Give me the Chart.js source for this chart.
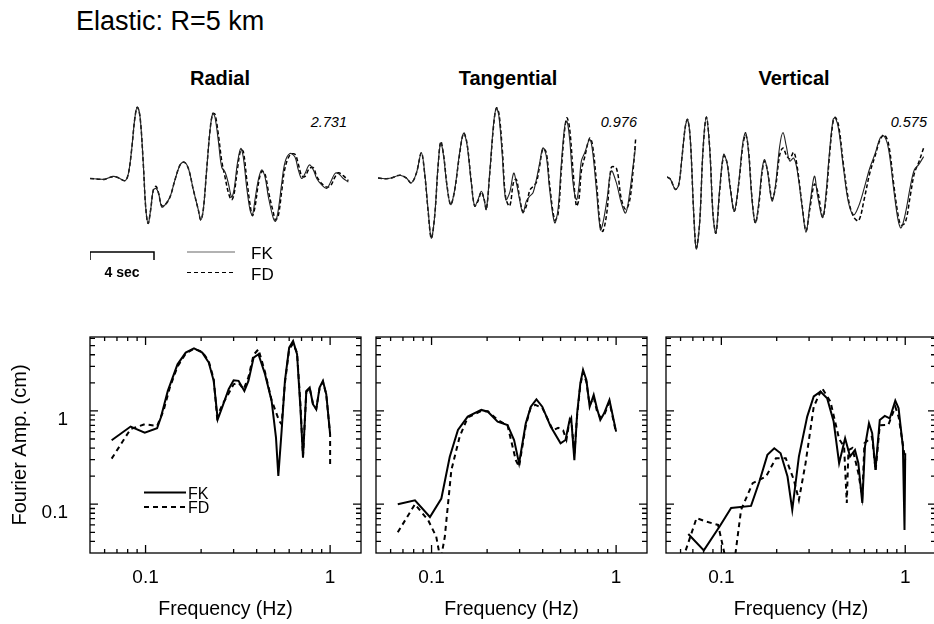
<!DOCTYPE html>
<html>
<head>
<meta charset="utf-8">
<script src="https://cdn.jsdelivr.net/npm/chart.js@4.4.1/dist/chart.umd.min.js"></script>
<style>
  body { margin: 0; width: 934px; height: 624px; overflow: hidden; background: #fff; position: relative;
         font-family: "Liberation Sans", Arial, Helvetica, sans-serif; color: #000; }
  .box { position: absolute; }
  .txt { position: absolute; white-space: nowrap; line-height: 1; }
  .head { font-weight: bold; font-size: 20px; top: 68px; transform: translateX(-50%); }
  .peak { font-style: italic; font-size: 14.5px; top: 115px; transform: translateX(-100%); }
</style>
</head>
<body>
<div class="txt" style="left:76px;top:8px;font-size:27px">Elastic: R=5 km</div>
<div class="txt head" style="left:220px">Radial</div>
<div class="txt head" style="left:508px">Tangential</div>
<div class="txt head" style="left:794px">Vertical</div>
<div class="txt peak" style="left:347px">2.731</div>
<div class="txt peak" style="left:637px">0.976</div>
<div class="txt peak" style="left:927px">0.575</div>

<div class="box" style="left:90px;top:100px;width:260px;height:185px"><canvas id="trR"></canvas></div>
<div class="box" style="left:378px;top:101px;width:260px;height:154px"><canvas id="trT"></canvas></div>
<div class="box" style="left:667px;top:97px;width:260px;height:160px"><canvas id="trV"></canvas></div>
<div class="box" style="left:0px;top:330px;width:370px;height:294px"><canvas id="spR"></canvas></div>
<div class="box" style="left:370px;top:330px;width:280px;height:294px"><canvas id="spT"></canvas></div>
<div class="box" style="left:660px;top:330px;width:280px;height:294px"><canvas id="spV"></canvas></div>

<script>
// seismograms, amplitude normalised to the peak value printed at the right (s, -)
const radialTime = [0,0.63,0.94,1.46,1.77,2.19,2.40,2.60,2.81,2.96,3.13,3.33,3.48,3.63,3.79,3.96,4.13,4.29,4.48,4.69,5.00,5.31,5.63,5.88,6.15,6.46,6.77,6.92,7.08,7.29,7.50,7.67,7.81,8.02,8.23,8.44,8.65,8.85,9.00,9.21,9.42,9.58,9.79,10.00,10.15,10.31,10.52,10.73,10.94,11.15,11.46,11.60,11.77,11.98,12.19,12.50,12.81,13.02,13.23,13.44,13.71,13.96,14.17,14.48,14.79,15.04,15.31,15.52,15.83,16.15];
const radialFK = [0,-0.01,-0.01,0.03,0.01,-0.03,0.07,0.40,0.86,1.00,0.86,0.21,-0.40,-0.63,-0.44,-0.16,-0.14,-0.21,-0.40,-0.37,-0.26,-0.02,0.19,0.23,0.14,-0.16,-0.44,-0.58,-0.44,0.12,0.67,0.91,0.86,0.53,0.16,0.09,-0.07,-0.26,-0.16,0.21,0.42,0.30,-0.12,-0.44,-0.51,-0.30,-0.02,0.12,0.02,-0.26,-0.56,-0.60,-0.44,-0.07,0.23,0.35,0.30,0.12,0.00,0.07,0.19,0.12,0.00,-0.09,-0.14,-0.05,0.07,0.07,0.00,-0.05];
const radialFD = [0,-0.01,-0.01,0.03,0.01,-0.03,0.07,0.40,0.86,1.00,0.86,0.21,-0.40,-0.63,-0.44,-0.16,-0.11,-0.21,-0.38,-0.37,-0.26,-0.02,0.19,0.23,0.14,-0.16,-0.44,-0.58,-0.44,0.12,0.67,0.91,0.90,0.62,0.25,0.02,-0.20,-0.30,-0.22,0.12,0.40,0.38,0.00,-0.36,-0.52,-0.40,-0.08,0.10,0.06,-0.18,-0.48,-0.58,-0.52,-0.18,0.15,0.33,0.34,0.20,0.04,0.03,0.14,0.15,0.03,-0.07,-0.12,-0.10,0.02,0.08,0.04,-0.03];

const tangTime = [0,0.42,0.83,1.35,1.77,2.08,2.40,2.71,2.92,3.13,3.33,3.54,3.75,3.92,4.10,4.31,4.54,4.79,5.10,5.35,5.56,5.83,6.04,6.25,6.46,6.63,6.77,6.98,7.23,7.40,7.56,7.77,7.98,8.23,8.48,8.65,8.85,9.06,9.27,9.48,9.69,9.90,10.10,10.31,10.52,10.73,11.04,11.25,11.46,11.67,11.81,11.98,12.19,12.40,12.56,12.71,12.92,13.23,13.40,13.65,13.90,14.06,14.31,14.58,14.90,15.21,15.48,15.73,15.94,16.10];
const tangFK = [0,-0.01,0.00,0.04,0.00,-0.07,0.07,0.36,0.07,-0.45,-0.86,-0.55,0.17,0.50,0.31,-0.12,-0.38,-0.17,0.36,0.64,0.48,-0.07,-0.40,-0.31,-0.19,-0.31,-0.45,0.07,0.79,1.00,0.88,0.31,-0.31,-0.21,0.07,-0.07,-0.31,-0.50,-0.33,-0.26,-0.21,-0.02,0.21,0.43,0.31,-0.17,-0.64,-0.45,0.21,0.74,0.81,0.55,-0.07,-0.31,-0.12,0.24,0.36,0.55,0.40,-0.17,-0.74,-0.64,-0.31,0.10,-0.07,-0.36,-0.50,-0.21,0.17,0.45];
const tangFD = [0,-0.01,0.00,0.04,0.00,-0.07,0.07,0.36,0.05,-0.47,-0.86,-0.55,0.15,0.52,0.33,-0.10,-0.38,-0.18,0.34,0.64,0.50,-0.05,-0.40,-0.33,-0.20,-0.30,-0.45,0.05,0.76,1.00,0.92,0.40,-0.28,-0.40,-0.05,-0.02,-0.28,-0.48,-0.40,-0.18,-0.12,-0.06,0.17,0.42,0.36,-0.10,-0.60,-0.52,0.12,0.70,0.86,0.70,0.10,-0.40,-0.30,0.10,0.30,0.57,0.48,-0.05,-0.70,-0.76,-0.48,0.15,0.14,-0.30,-0.45,-0.32,0.10,0.55];

const vertTime = [0,0.21,0.52,0.73,0.94,1.15,1.29,1.46,1.67,1.83,2.04,2.25,2.46,2.67,2.88,3.06,3.29,3.54,3.75,3.96,4.21,4.48,4.75,4.92,5.10,5.31,5.52,5.73,5.94,6.10,6.29,6.56,6.77,7.04,7.25,7.46,7.67,7.92,8.13,8.44,8.69,8.92,9.21,9.42,9.73,9.94,10.15,10.38,10.52,10.73,11.04,11.35,11.67,11.98,12.33,12.67,13.02,13.33,13.58,13.85,14.17,14.44,14.63,14.90,15.21,15.46,15.73,16.04];
const vertFK = [0,-0.03,-0.17,-0.11,0.28,0.70,0.79,0.51,-0.50,-0.99,-0.63,0.38,0.83,0.38,-0.54,-0.77,-0.17,0.31,0.19,-0.17,-0.47,-0.08,0.49,0.61,0.33,-0.31,-0.63,-0.36,0.10,0.24,0.06,-0.33,-0.13,0.42,0.61,0.42,0.22,0.26,0.10,-0.40,-0.76,-0.40,0.01,-0.27,-0.56,-0.22,0.33,0.79,0.81,0.65,0.10,-0.36,-0.52,-0.40,-0.15,0.12,0.33,0.54,0.56,0.38,-0.17,-0.59,-0.70,-0.50,-0.13,0.10,0.17,0.28];
const vertFD = [0,-0.03,-0.17,-0.11,0.28,0.70,0.79,0.51,-0.50,-0.97,-0.63,0.36,0.82,0.40,-0.52,-0.77,-0.20,0.29,0.20,-0.15,-0.47,-0.10,0.45,0.58,0.36,-0.28,-0.63,-0.40,0.06,0.22,0.08,-0.30,-0.16,0.30,0.40,0.30,0.25,0.34,0.15,-0.38,-0.74,-0.45,-0.10,-0.20,-0.55,-0.28,0.28,0.76,0.82,0.70,0.15,-0.32,-0.55,-0.60,-0.30,0.05,0.30,0.52,0.58,0.45,-0.10,-0.52,-0.66,-0.62,-0.25,0.05,0.20,0.40];

const scaleBarSec = 4;

// Fourier amplitude spectra (Hz, cm)
const radialSpecFreqFK = [0.0655,0.083,0.099,0.1155,0.121,0.132,0.149,0.165,0.183,0.203,0.220,0.234,0.246,0.260,0.282,0.300,0.319,0.343,0.361,0.385,0.409,0.444,0.482,0.509,0.524,0.546,0.569,0.600,0.630,0.662,0.690,0.713,0.743,0.775,0.807,0.841,0.877,0.914,0.953,1.0];
const radialSpecAmpFK = [0.485,0.68,0.586,0.652,0.85,1.64,3.16,4.22,4.69,4.22,3.30,2.10,0.81,1.09,1.71,2.13,2.10,1.64,2.10,3.73,4.05,2.47,1.28,0.518,0.201,0.611,2.10,4.77,5.62,4.05,1.09,0.316,1.64,1.78,1.18,1.04,1.78,2.10,1.51,0.562];
const radialSpecFreqFD = [0.0655,0.083,0.099,0.1155,0.125,0.135,0.149,0.165,0.183,0.203,0.220,0.234,0.244,0.262,0.274,0.300,0.319,0.340,0.361,0.385,0.409,0.444,0.482,0.53,0.546,0.569,0.600,0.630,0.662,0.690,0.713,0.743,0.775,0.807,0.841,0.877,0.914,0.953,1.0,1.0];
const radialSpecAmpFD = [0.308,0.64,0.72,0.69,1.0,1.75,3.0,4.1,4.65,4.3,3.4,2.2,0.86,1.2,1.39,1.93,2.0,1.71,2.3,4.0,4.58,2.6,1.3,0.78,0.72,2.0,4.6,5.27,4.2,1.2,0.33,1.6,1.75,1.2,1.05,1.75,2.05,1.5,0.56,0.247];

const tangSpecFreqFK = [0.0656,0.0813,0.098,0.113,0.1255,0.139,0.157,0.186,0.202,0.228,0.258,0.280,0.298,0.324,0.345,0.370,0.398,0.442,0.500,0.532,0.555,0.571,0.594,0.615,0.640,0.662,0.690,0.719,0.756,0.787,0.821,0.861,0.920,1.0];
const tangSpecAmpFK = [0.1,0.11,0.073,0.115,0.323,0.625,0.869,1.025,0.98,0.768,0.707,0.488,0.274,0.736,1.11,1.33,1.11,0.679,0.449,0.488,0.736,0.834,0.297,0.944,1.98,2.76,2.15,1.11,1.49,1.07,0.80,0.944,1.31,0.60];
const tangSpecFreqFD = [0.0656,0.0813,0.096,0.106,0.112,0.118,0.128,0.142,0.157,0.186,0.202,0.228,0.258,0.286,0.298,0.324,0.345,0.365,0.398,0.455,0.485,0.516,0.538,0.560,0.575,0.594,0.615,0.640,0.662,0.690,0.719,0.756,0.787,0.821,0.861,0.920,1.0];
const tangSpecAmpFD = [0.050,0.10,0.067,0.045,0.025,0.045,0.232,0.530,0.85,1.0,0.99,0.80,0.70,0.297,0.252,0.70,1.10,1.16,1.08,0.62,0.66,0.62,0.49,0.80,0.70,0.35,0.90,1.90,2.60,2.05,1.15,1.40,1.0,0.85,0.90,1.25,0.58];

const vertSpecFreqFK = [0.0661,0.0803,0.098,0.113,0.145,0.161,0.178,0.194,0.210,0.229,0.243,0.264,0.293,0.318,0.346,0.376,0.408,0.437,0.471,0.501,0.533,0.556,0.584,0.604,0.635,0.661,0.689,0.727,0.774,0.824,0.883,0.920,0.971,0.991,1.0];
const vertSpecAmpFK = [0.048,0.032,0.058,0.091,0.096,0.175,0.338,0.398,0.352,0.198,0.087,0.324,0.869,1.43,1.61,1.37,0.769,0.275,0.509,0.324,0.382,0.275,0.103,0.415,0.738,0.576,0.233,0.801,0.884,0.834,1.29,1.07,0.415,0.053,0.352];
const vertSpecFreqFD = [0.064,0.0733,0.083,0.096,0.106,0.118,0.128,0.148,0.175,0.198,0.224,0.248,0.264,0.287,0.318,0.353,0.392,0.437,0.465,0.481,0.491,0.516,0.556,0.584,0.600,0.660,0.690,0.727,0.810,0.883,0.920,0.990,1.0];
const vertSpecAmpFD = [0.032,0.071,0.065,0.060,0.025,0.025,0.087,0.168,0.198,0.311,0.311,0.182,0.111,0.275,1.11,1.75,1.26,0.50,0.415,0.103,0.38,0.40,0.215,0.12,0.45,0.53,0.23,0.70,0.71,1.11,0.87,0.34,0.30];

const freqRange = [0.05, 1.47];
const ampRange = [0.03, 6.2];
const freqTickLabels = [0.1, 1];
const ampTickLabels = [0.1, 1];
const seriesNames = ['FK', 'FD'];

const FONT = '"Liberation Sans", Arial, Helvetica, sans-serif';
Chart.defaults.font.family = FONT;
Chart.defaults.color = '#000';

const pts = (xs, ys) => xs.map((x, i) => ({x: x, y: ys[i]}));
const isDecade = v => Math.abs(Math.log10(v) - Math.round(Math.log10(v))) < 1e-6;
const near = (list, v) => list.some(l => Math.abs(l - v) < 1e-9);

// 1-2-...-9 per decade between min and max
function logTicks(min, max) {
  const out = [];
  for (let e = -3; e <= 2; e++) {
    for (let m = 1; m <= 9; m++) {
      const v = +(m * Math.pow(10, e)).toPrecision(6);
      if (v >= min && v <= max) out.push({value: v});
    }
  }
  return out;
}

// scale bar + legend under the radial trace
const traceKey = {
  id: 'traceKey',
  afterDraw(chart) {
    if (!chart.options.plugins.traceKey.show) return;
    const ctx = chart.ctx, xs = chart.scales.x;
    const x0 = xs.getPixelForValue(0), x1 = xs.getPixelForValue(scaleBarSec);
    ctx.save();
    ctx.strokeStyle = '#000';
    ctx.lineWidth = 1.5;
    ctx.beginPath();
    ctx.moveTo(x0, 160); ctx.lineTo(x0, 152); ctx.lineTo(x1, 152); ctx.lineTo(x1, 160);
    ctx.stroke();
    ctx.font = 'bold 14px ' + FONT;
    ctx.textAlign = 'center';
    ctx.fillStyle = '#000';
    ctx.fillText(scaleBarSec + ' sec', (x0 + x1) / 2, 176.5);

    ctx.strokeStyle = '#999';
    ctx.lineWidth = 1.5;
    ctx.beginPath(); ctx.moveTo(97, 152); ctx.lineTo(145, 152); ctx.stroke();
    ctx.strokeStyle = '#000';
    ctx.lineWidth = 1.2;
    ctx.setLineDash([4, 3]);
    ctx.beginPath(); ctx.moveTo(97, 172.5); ctx.lineTo(145, 172.5); ctx.stroke();
    ctx.setLineDash([]);
    ctx.font = '17px ' + FONT;
    ctx.textAlign = 'left';
    ctx.fillText(seriesNames[0], 161, 158.5);
    ctx.fillText(seriesNames[1], 161, 179.5);
    ctx.restore();
  }
};

// boxed frame with inward ticks on all four sides, plus the in-panel legend
const frameTicks = {
  id: 'frameTicks',
  afterDraw(chart) {
    const ctx = chart.ctx, a = chart.chartArea, xs = chart.scales.x, ys = chart.scales.y;
    ctx.save();
    ctx.strokeStyle = '#000';
    ctx.lineWidth = 1.3;
    ctx.strokeRect(a.left, a.top, a.right - a.left, a.bottom - a.top);
    ctx.beginPath();
    xs.ticks.forEach(t => {
      const p = xs.getPixelForValue(t.value);
      if (p <= a.left + 1 || p >= a.right - 1) return;
      const len = isDecade(t.value) ? 8 : 4;
      ctx.moveTo(p, a.bottom); ctx.lineTo(p, a.bottom - len);
      ctx.moveTo(p, a.top); ctx.lineTo(p, a.top + len);
    });
    ys.ticks.forEach(t => {
      const p = ys.getPixelForValue(t.value);
      if (p <= a.top + 1 || p >= a.bottom - 1) return;
      const len = isDecade(t.value) ? 8 : 5;
      ctx.moveTo(a.left, p); ctx.lineTo(a.left + len, p);
      ctx.moveTo(a.right, p); ctx.lineTo(a.right - len, p);
    });
    ctx.stroke();

    if (chart.options.plugins.frameTicks.legend) {
      ctx.lineWidth = 2;
      ctx.beginPath(); ctx.moveTo(144, 162.5); ctx.lineTo(186, 162.5); ctx.stroke();
      ctx.setLineDash([5, 4]);
      ctx.beginPath(); ctx.moveTo(144, 177); ctx.lineTo(186, 177); ctx.stroke();
      ctx.setLineDash([]);
      ctx.font = '16px ' + FONT;
      ctx.fillStyle = '#000';
      ctx.fillText(seriesNames[0], 188, 168.5);
      ctx.fillText(seriesNames[1], 188, 183);
    }
    ctx.restore();
  }
};

function traceChart(id, time, fk, fd, padBottom, showKey) {
  return new Chart(document.getElementById(id), {
    type: 'line',
    data: {
      datasets: [
        { label: seriesNames[0], data: pts(time, fk), borderColor: '#222', borderWidth: 1.1,
          pointRadius: 0, tension: 0.35, clip: false },
        { label: seriesNames[1], data: pts(time, fd), borderColor: '#000', borderWidth: 1.5,
          borderDash: [4, 2.5], pointRadius: 0, tension: 0.35, clip: false }
      ]
    },
    options: {
      responsive: true, maintainAspectRatio: false, animation: false, events: [],
      layout: { padding: { left: 0, right: 0, top: 0, bottom: padBottom } },
      scales: {
        x: { type: 'linear', display: false, min: 0, max: 16.25 },
        y: { display: false, min: -1.1, max: 1.1 }
      },
      plugins: { legend: { display: false }, tooltip: { enabled: false }, traceKey: { show: showKey } }
    },
    plugins: [traceKey]
  });
}

function specChart(id, fF, aF, fD, aD, yWidth, padRight, first) {
  return new Chart(document.getElementById(id), {
    type: 'line',
    data: {
      datasets: [
        { label: seriesNames[0], data: pts(fF, aF), borderColor: '#000', borderWidth: 2,
          pointRadius: 0, tension: 0 },
        { label: seriesNames[1], data: pts(fD, aD), borderColor: '#000', borderWidth: 2,
          borderDash: [5, 4], pointRadius: 0, tension: 0 }
      ]
    },
    options: {
      responsive: true, maintainAspectRatio: false, animation: false, events: [],
      layout: { padding: { left: 0, right: padRight, top: 7, bottom: 0 } },
      scales: {
        x: {
          type: 'logarithmic', min: freqRange[0], max: freqRange[1],
          grid: { display: false, drawTicks: false }, border: { display: false },
          afterBuildTicks: s => { s.ticks = logTicks(freqRange[0], freqRange[1]); },
          afterFit: s => { s.height = 71; s.paddingLeft = 0; s.paddingRight = 0; },
          ticks: { autoSkip: false, maxRotation: 0, padding: 13, font: { size: 19 },
                   callback: v => near(freqTickLabels, v) ? String(v) : '' },
          title: { display: true, text: 'Frequency (Hz)', font: { size: 19.5 }, padding: { top: 0, bottom: 3 } }
        },
        y: {
          type: 'logarithmic', min: ampRange[0], max: ampRange[1],
          grid: { display: false, drawTicks: false }, border: { display: false },
          afterBuildTicks: s => { s.ticks = logTicks(ampRange[0], ampRange[1]); },
          afterFit: s => { s.width = yWidth; s.paddingTop = 0; s.paddingBottom = 0; },
          ticks: { display: first, autoSkip: false, padding: 22, labelOffset: 9, font: { size: 19 },
                   callback: v => near(ampTickLabels, v) ? String(v) : '' },
          title: { display: first, text: 'Fourier Amp. (cm)', font: { size: 20 }, padding: { top: 8, bottom: 0 } }
        }
      },
      plugins: { legend: { display: false }, tooltip: { enabled: false }, frameTicks: { legend: first } }
    },
    plugins: [frameTicks]
  });
}

traceChart('trR', radialTime, radialFK, radialFD, 28, true);
traceChart('trT', tangTime, tangFK, tangFD, 0, false);
traceChart('trV', vertTime, vertFK, vertFD, 0, false);

specChart('spR', radialSpecFreqFK, radialSpecAmpFK, radialSpecFreqFD, radialSpecAmpFD, 90, 9, true);
specChart('spT', tangSpecFreqFK, tangSpecAmpFK, tangSpecFreqFD, tangSpecAmpFD, 6, 3, false);
specChart('spV', vertSpecFreqFK, vertSpecAmpFK, vertSpecFreqFD, vertSpecAmpFD, 6, 4, false);
</script>
</body>
</html>
